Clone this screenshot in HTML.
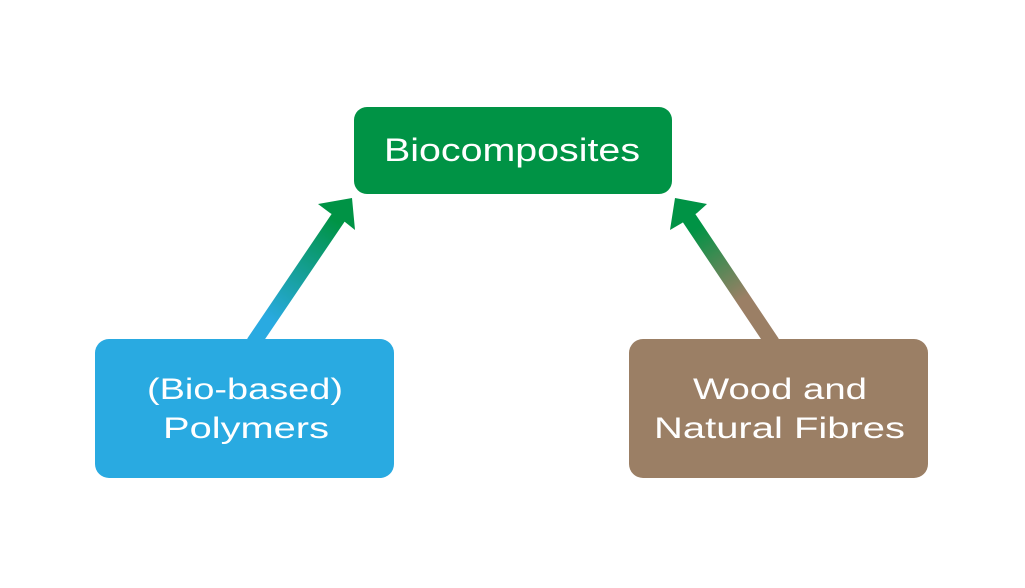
<!DOCTYPE html>
<html>
<head>
<meta charset="utf-8">
<style>
  html, body { margin: 0; padding: 0; background: #ffffff; }
  svg { display: block; }
  text { font-family: "Liberation Sans", "DejaVu Sans", sans-serif; fill: #ffffff; }
</style>
</head>
<body>
<svg width="1025" height="588" viewBox="0 0 1025 588" xmlns="http://www.w3.org/2000/svg">
  <defs>
    <linearGradient id="gL" gradientUnits="userSpaceOnUse" x1="254" y1="340" x2="350" y2="200">
      <stop offset="0" stop-color="#29aae1"/>
      <stop offset="0.15" stop-color="#29aae1"/>
      <stop offset="0.85" stop-color="#009345"/>
      <stop offset="1" stop-color="#009345"/>
    </linearGradient>
    <linearGradient id="gR" gradientUnits="userSpaceOnUse" x1="772" y1="340" x2="678" y2="200">
      <stop offset="0" stop-color="#9b7f65"/>
      <stop offset="0.3" stop-color="#9b7f65"/>
      <stop offset="0.8" stop-color="#009345"/>
      <stop offset="1" stop-color="#009345"/>
    </linearGradient>
  </defs>

  <!-- Left arrow -->
  <line x1="254" y1="342" x2="338" y2="218" stroke="url(#gL)" stroke-width="15" stroke-linecap="round"/>
  <polygon points="352,198 318,204 330,213 345,222 355,230" fill="url(#gL)"/>

  <!-- Right arrow -->
  <line x1="772" y1="342" x2="689" y2="218" stroke="url(#gR)" stroke-width="15" stroke-linecap="round"/>
  <polygon points="675,198 707,204 697,213 682,223 670,230" fill="url(#gR)"/>

  <!-- Top box -->
  <rect x="354" y="107" width="318" height="87" rx="13" ry="13" fill="#009345"/>
  <text x="384" y="161" font-size="32" textLength="256" lengthAdjust="spacingAndGlyphs">Biocomposites</text>

  <!-- Left box -->
  <rect x="95" y="339" width="299" height="139" rx="14" ry="14" fill="#29aae1"/>
  <text x="147" y="399" font-size="30" textLength="196" lengthAdjust="spacingAndGlyphs">(Bio-based)</text>
  <text x="163" y="438" font-size="30" textLength="166" lengthAdjust="spacingAndGlyphs">Polymers</text>

  <!-- Right box -->
  <rect x="629" y="339" width="299" height="139" rx="14" ry="14" fill="#9b7f65"/>
  <text x="693" y="399" font-size="30" textLength="174" lengthAdjust="spacingAndGlyphs">Wood and</text>
  <text x="654" y="438" font-size="30" textLength="251" lengthAdjust="spacingAndGlyphs">Natural Fibres</text>
</svg>
</body>
</html>
